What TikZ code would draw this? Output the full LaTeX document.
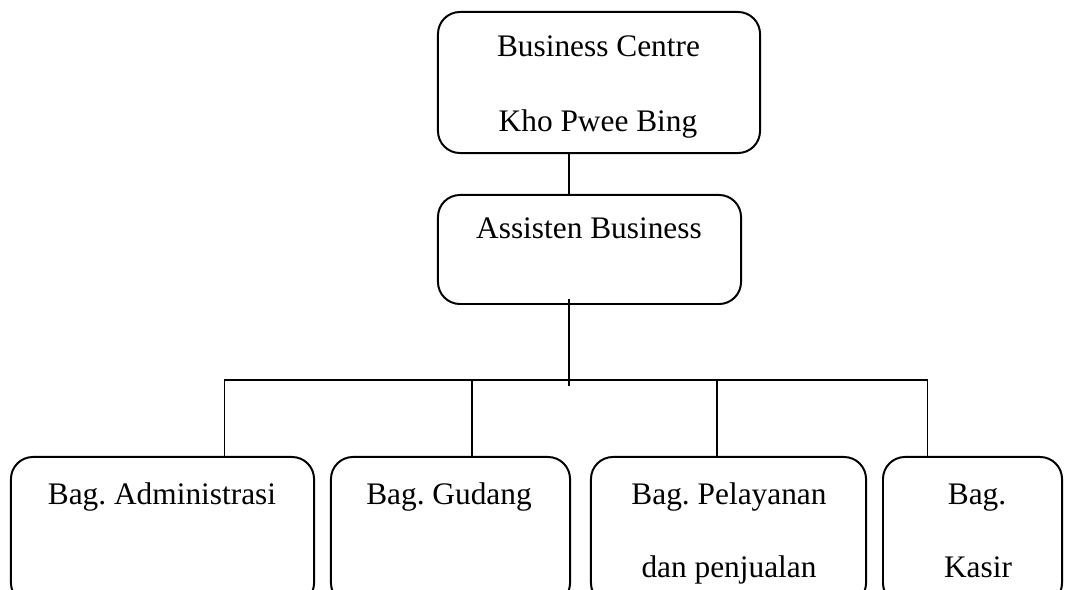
\documentclass[tikz,border=0pt]{standalone}
\usepackage{fontspec}
\setmainfont{Liberation Serif}
\usetikzlibrary{positioning}
\frenchspacing

\begin{document}
\begin{tikzpicture}[x=0.025cm, y=-0.025cm, line width=1.4pt,
    font=\fontsize{22.3}{26}\selectfont,
    unit/.style={draw, rounded corners=0.55cm, inner sep=0pt},
    caption/.style={anchor=base, inner sep=0pt}]
    \useasboundingbox (0,0) rectangle (1065,590);

    \node[unit, minimum width=8.05cm, minimum height=3.525cm] (centre) at (599,82.5) {};
    \node[unit, minimum width=7.575cm, minimum height=2.725cm] (asst) at (589.5,249.5) {};
    \foreach \n/\x/\w in {adm/162.5/7.575, gud/450.5/5.975, pel/728.5/6.875, kas/972.5/4.475}
      \node[unit, minimum width=\w cm, minimum height=3.7cm] (\n) at (\x,531) {};

    \node[caption] (centre-1) at (598.5,57) {Business Centre};
    \node[caption] (centre-2) at (598,132) {Kho Pwee Bing};
    \node[caption] (asst-1) at (589,239) {Assisten Business};
    \node[caption] (adm-1) at (162,504) {Bag. Administrasi};
    \node[caption] (gud-1) at (449,504) {Bag. Gudang};
    \node[caption] (pel-1) at (729,504) {Bag. Pelayanan};
    \node[caption] (pel-2) at (729,577) {dan penjualan};
    \node[caption] (kas-1) at (977,504) {Bag.};
    \node[caption] (kas-2) at (978,577) {Kasir};

    \draw (centre.south -| 569,0) -- (asst.north -| 569,0);
    \coordinate (trunk) at (569,299);
    \coordinate (fork) at (569,386);
    \draw (trunk) -- (fork);
    \draw (adm.north -| 224.5,0) -- (224.5,380) -- (927.5,380) -- (kas.north -| 927.5,0);
    \foreach \n/\x in {gud/472, pel/717}
      \draw (\x,380) -- (\n.north -| \x,0);
  \end{tikzpicture}
\end{document}
